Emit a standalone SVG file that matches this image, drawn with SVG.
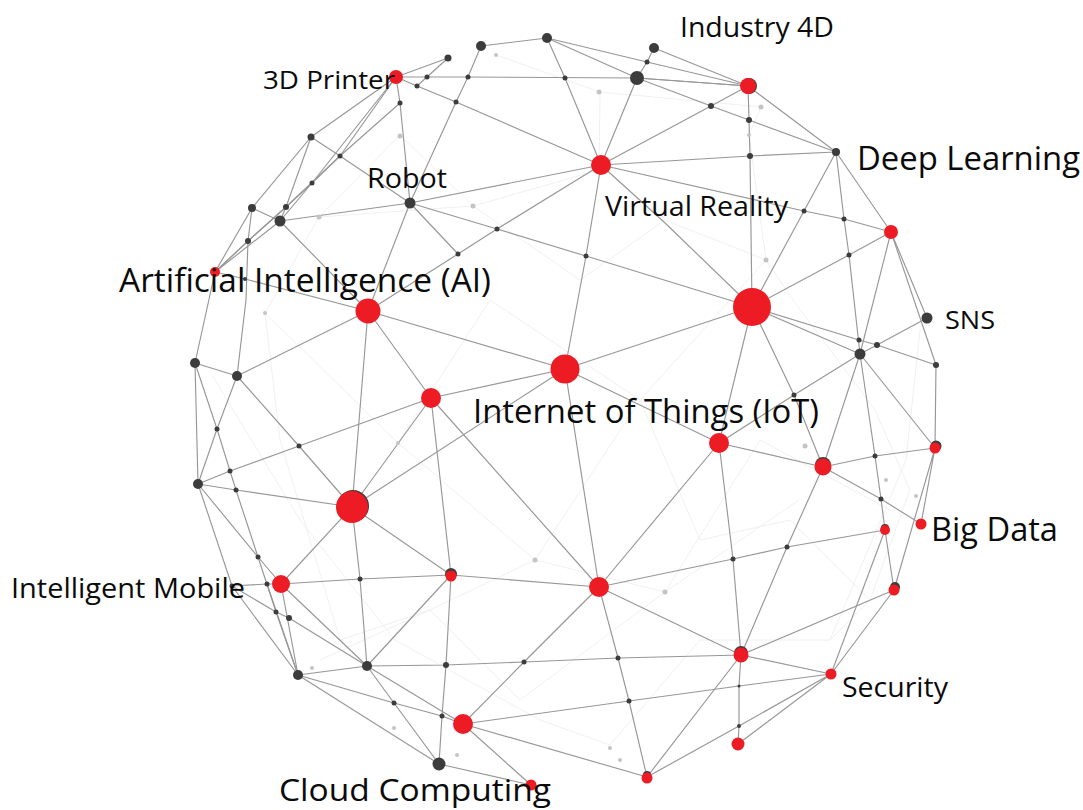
<svg xmlns="http://www.w3.org/2000/svg" width="1083" height="810" viewBox="0 0 1083 810">
<style>
.e{fill:none;stroke:#979797;stroke-width:1.15;stroke-linejoin:round}
.f{fill:none;stroke:#ececec;stroke-width:.8}
.r{fill:#ed1c24}
.d{fill:#3c3c3c}
.h{fill:#3c3c3c}
.g{fill:#c4c4c4}
text{font-family:"Open Sans","Noto Sans","Liberation Sans",sans-serif;fill:#0b0b0b}
</style>
<rect width="1083" height="810" fill="#fff"/>
<g id="faint">
<polyline class="f" points="496,55 600,92 599,170 473,206 400,135 319,217 265,313 398,443 535,560 665,592 799,500"/>
<polyline class="f" points="600,92 761,107 749,135 766,260 793,300 875,410 910,490 870,600 830,640"/>
<polyline class="f" points="319,217 473,206 580,280 665,220 766,260 640,400 535,560 430,610 320,660"/>
<polyline class="f" points="265,313 280,440 340,640 430,610 520,700 665,592 760,440 890,510"/>
<polyline class="f" points="212,375 300,520 395,640 540,720 610,745 700,640 830,640 906,460 920,330"/>
<polyline class="f" points="398,443 490,300 640,400 700,540 790,520 870,600"/>
</g>
<g id="connectors">
<polyline class="e" points="396,77 448,58 417,86"/>
<polyline class="e" points="396,77 427,77 468,77 637,78 748,86"/>
<polyline class="e" points="481,46 547,38 647,62 748,86"/>
<polyline class="e" points="547,38 637,78 711,106 749,120 836,152"/>
<polyline class="e" points="654,48 647,62 637,78"/>
<polyline class="e" points="654,48 748,86 836,152 891,232 927,318 877,345 860,354"/>
<polyline class="e" points="637,78 748,86"/>
<polyline class="e" points="481,46 468,77 456,102 410,203"/>
<polyline class="e" points="396,77 417,86 456,102 601,165"/>
<polyline class="e" points="547,38 565,78 601,165 637,78"/>
<polyline class="e" points="748,86 711,106 601,165 750,156 836,152"/>
<polyline class="e" points="748,86 749,120 750,156 752,307"/>
<polyline class="e" points="396,77 311,137 252,208 215,272 195,363 198,484"/>
<polyline class="e" points="396,77 340,156 312,183 286,207 248,241 215,272"/>
<polyline class="e" points="396,77 312,183 280,221 215,272"/>
<polyline class="e" points="396,77 400,103 410,203"/>
<polyline class="e" points="400,103 340,156 286,207 248,241 215,272"/>
<polyline class="e" points="311,137 340,156 410,203"/>
<polyline class="e" points="311,137 286,207 280,221"/>
<polyline class="e" points="252,208 280,221 410,203 601,165"/>
<polyline class="e" points="252,208 248,241 246,300 237,376"/>
<polyline class="e" points="215,272 245,279 368,311"/>
<polyline class="e" points="280,221 368,311 458,254 410,203"/>
<polyline class="e" points="410,203 368,311"/>
<polyline class="e" points="410,203 497,229 586,256 752,307"/>
<polyline class="e" points="458,254 497,229 601,165"/>
<polyline class="e" points="601,165 586,256 565,369"/>
<polyline class="e" points="601,165 664,222 752,307"/>
<polyline class="e" points="601,165 804,211 844,219 891,232"/>
<polyline class="e" points="836,152 804,211 752,307 849,255 891,232"/>
<polyline class="e" points="836,152 844,219 849,255 860,354"/>
<polyline class="e" points="891,232 860,354"/>
<polyline class="e" points="891,232 936,365 935,448"/>
<polyline class="e" points="752,307 859,340 877,345 936,365"/>
<polyline class="e" points="752,307 860,354 935,448"/>
<polyline class="e" points="752,307 794,395 823,467 860,354 794,395 719,443"/>
<polyline class="e" points="752,307 719,443"/>
<polyline class="e" points="752,307 565,369 368,311 431,398 565,369 719,443 823,467 875,456 935,448"/>
<polyline class="e" points="860,354 875,456 881,499 885,530"/>
<polyline class="e" points="823,467 881,499 921,524 935,448 894,590 831,674"/>
<polyline class="e" points="885,530 894,590 741,655"/>
<polyline class="e" points="885,530 831,674"/>
<polyline class="e" points="719,443 733,559 741,655"/>
<polyline class="e" points="719,443 599,587"/>
<polyline class="e" points="823,467 787,547 741,655"/>
<polyline class="e" points="599,587 733,559 787,547 885,530"/>
<polyline class="e" points="565,369 599,587 741,655 831,674"/>
<polyline class="e" points="431,398 599,587 451,575 360,579 281,584"/>
<polyline class="e" points="741,655 739,686 739,726 738,744 831,674"/>
<polyline class="e" points="741,655 647,777 739,726 831,674"/>
<polyline class="e" points="599,587 618,658 629,701 647,777 463,724"/>
<polyline class="e" points="463,724 629,701 739,686 831,674"/>
<polyline class="e" points="367,666 446,665 524,662 618,658 741,655"/>
<polyline class="e" points="599,587 524,662 463,724 531,785"/>
<polyline class="e" points="368,311 352,507 431,398"/>
<polyline class="e" points="565,369 352,507 451,575 367,666"/>
<polyline class="e" points="368,311 237,376 299,446 352,507"/>
<polyline class="e" points="431,398 299,446 230,471 198,484"/>
<polyline class="e" points="431,398 451,575 446,665"/>
<polyline class="e" points="195,363 237,376 217,429 198,484 236,490 352,507"/>
<polyline class="e" points="195,363 217,429 230,471 236,490 258,557 276,612 298,675"/>
<polyline class="e" points="198,484 258,557 281,584 298,675"/>
<polyline class="e" points="198,484 232,586 298,675 367,666"/>
<polyline class="e" points="232,586 267,584 281,584"/>
<polyline class="e" points="232,586 276,612 289,618 367,666"/>
<polyline class="e" points="267,584 298,675"/>
<polyline class="e" points="281,584 367,666"/>
<polyline class="e" points="352,507 281,584"/>
<polyline class="e" points="352,507 360,579 367,666"/>
<polyline class="e" points="367,666 394,703 439,764"/>
<polyline class="e" points="367,666 463,724"/>
<polyline class="e" points="298,675 394,703 442,716 463,724"/>
<polyline class="e" points="298,675 439,764 531,785"/>
<polyline class="e" points="446,665 442,716 439,764"/>
</g>
<g id="n1"><circle class="g" cx="599" cy="92" r="2.5"/></g>
<g id="n2"><circle class="g" cx="761" cy="107" r="2.5"/></g>
<g id="n3"><circle class="g" cx="749" cy="135" r="2"/></g>
<g id="n4"><circle class="g" cx="766" cy="260" r="2.5"/></g>
<g id="n5"><circle class="g" cx="496" cy="55" r="2"/></g>
<g id="n6"><circle class="g" cx="400" cy="136" r="2.5"/></g>
<g id="n7"><circle class="g" cx="319" cy="217" r="2.5"/></g>
<g id="n8"><circle class="g" cx="473" cy="206" r="2.5"/></g>
<g id="n9"><circle class="g" cx="265" cy="313" r="2"/></g>
<g id="n10"><circle class="g" cx="398" cy="443" r="2"/></g>
<g id="n11"><circle class="g" cx="535" cy="560" r="2.5"/></g>
<g id="n12"><circle class="g" cx="665" cy="592" r="2.5"/></g>
<g id="n13"><circle class="g" cx="805" cy="446" r="2.5"/></g>
<g id="n14"><circle class="g" cx="886" cy="480" r="2"/></g>
<g id="n15"><circle class="g" cx="916" cy="496" r="2"/></g>
<g id="n16"><circle class="g" cx="312" cy="668" r="2"/></g>
<g id="n17"><circle class="g" cx="394" cy="728" r="2"/></g>
<g id="n18"><circle class="g" cx="457" cy="755" r="2"/></g>
<g id="n19"><circle class="g" cx="620" cy="760" r="2"/></g>
<g id="n20"><circle class="g" cx="610" cy="748" r="2"/></g>
<g id="n22"><circle class="d" cx="637" cy="78" r="7"/></g>
<g id="n23"><circle class="d" cx="547" cy="38" r="5"/></g>
<g id="n24"><circle class="d" cx="481" cy="46" r="5"/></g>
<g id="n25"><circle class="d" cx="448" cy="58" r="3.5"/></g>
<g id="n26"><circle class="d" cx="311" cy="137" r="3.5"/></g>
<g id="n27"><circle class="d" cx="252" cy="208" r="4"/></g>
<g id="n28"><circle class="d" cx="280" cy="221" r="5.5"/></g>
<g id="n29"><circle class="d" cx="195" cy="363" r="5"/></g>
<g id="n30"><circle class="d" cx="237" cy="376" r="5"/></g>
<g id="n31"><circle class="d" cx="198" cy="484" r="5"/></g>
<g id="n32"><circle class="d" cx="367" cy="666" r="5"/></g>
<g id="n33"><circle class="d" cx="298" cy="675" r="5"/></g>
<g id="n34"><circle class="d" cx="439" cy="764" r="6.5"/></g>
<g id="n35"><circle class="d" cx="860" cy="354" r="5.5"/></g>
<g id="n36"><circle class="d" cx="427" cy="77" r="2.5"/></g>
<g id="n37"><circle class="d" cx="417" cy="86" r="2.5"/></g>
<g id="n38"><circle class="d" cx="400" cy="103" r="2.5"/></g>
<g id="n39"><circle class="d" cx="468" cy="77" r="2.5"/></g>
<g id="n40"><circle class="d" cx="456" cy="102" r="2.5"/></g>
<g id="n41"><circle class="d" cx="340" cy="156" r="2.5"/></g>
<g id="n42"><circle class="d" cx="312" cy="183" r="2.5"/></g>
<g id="n43"><circle class="d" cx="286" cy="207" r="3"/></g>
<g id="n44"><circle class="d" cx="248" cy="241" r="3"/></g>
<g id="n45"><circle class="d" cx="497" cy="229" r="2.5"/></g>
<g id="n46"><circle class="d" cx="458" cy="254" r="2.5"/></g>
<g id="n47"><circle class="d" cx="245" cy="279" r="2"/></g>
<g id="n48"><circle class="d" cx="565" cy="78" r="2.5"/></g>
<g id="n49"><circle class="d" cx="647" cy="62" r="2.5"/></g>
<g id="n50"><circle class="d" cx="711" cy="106" r="3"/></g>
<g id="n51"><circle class="d" cx="749" cy="120" r="3"/></g>
<g id="n52"><circle class="d" cx="750" cy="156" r="3"/></g>
<g id="n53"><circle class="d" cx="586" cy="256" r="2.5"/></g>
<g id="n54"><circle class="d" cx="804" cy="211" r="2.5"/></g>
<g id="n55"><circle class="d" cx="844" cy="219" r="2.5"/></g>
<g id="n56"><circle class="d" cx="849" cy="255" r="2.5"/></g>
<g id="n57"><circle class="d" cx="859" cy="340" r="2.5"/></g>
<g id="n58"><circle class="d" cx="877" cy="345" r="3"/></g>
<g id="n59"><circle class="d" cx="936" cy="365" r="3"/></g>
<g id="n60"><circle class="d" cx="794" cy="395" r="2.5"/></g>
<g id="n61"><circle class="d" cx="875" cy="456" r="2.5"/></g>
<g id="n62"><circle class="d" cx="881" cy="499" r="2.5"/></g>
<g id="n63"><circle class="d" cx="733" cy="559" r="2.5"/></g>
<g id="n64"><circle class="d" cx="787" cy="547" r="2.5"/></g>
<g id="n65"><circle class="d" cx="217" cy="429" r="2.5"/></g>
<g id="n66"><circle class="d" cx="299" cy="446" r="2.5"/></g>
<g id="n67"><circle class="d" cx="230" cy="471" r="2.5"/></g>
<g id="n68"><circle class="d" cx="236" cy="490" r="2.5"/></g>
<g id="n69"><circle class="d" cx="258" cy="557" r="2.5"/></g>
<g id="n70"><circle class="d" cx="267" cy="584" r="2.5"/></g>
<g id="n71"><circle class="d" cx="232" cy="586" r="2.5"/></g>
<g id="n72"><circle class="d" cx="276" cy="612" r="2.5"/></g>
<g id="n73"><circle class="d" cx="289" cy="618" r="3"/></g>
<g id="n74"><circle class="d" cx="360" cy="579" r="2.5"/></g>
<g id="n75"><circle class="d" cx="446" cy="665" r="3"/></g>
<g id="n76"><circle class="d" cx="524" cy="662" r="2.5"/></g>
<g id="n77"><circle class="d" cx="394" cy="703" r="2.5"/></g>
<g id="n78"><circle class="d" cx="442" cy="716" r="2.5"/></g>
<g id="n79"><circle class="d" cx="618" cy="658" r="2.5"/></g>
<g id="n80"><circle class="d" cx="629" cy="701" r="2.5"/></g>
<g id="n81"><circle class="d" cx="739" cy="686" r="1.5"/></g>
<g id="n82"><circle class="d" cx="739" cy="726" r="2"/></g>
<g id="n83"><circle class="r" cx="752" cy="307" r="19"/></g>
<g id="n84"><circle class="h" cx="353" cy="506" r="16"/><circle class="r" cx="352" cy="507" r="16"/></g>
<g id="n85"><circle class="r" cx="431" cy="398" r="10"/></g>
<g id="n86"><circle class="h" cx="749" cy="86" r="8"/><circle class="r" cx="748" cy="86" r="8"/></g>
<g id="n87"><circle class="r" cx="215" cy="272" r="5"/></g>
<g id="n88"><circle class="r" cx="891" cy="232" r="7"/></g>
<g id="n89"><circle class="r" cx="719" cy="443" r="10"/></g>
<g id="n90"><circle class="h" cx="823" cy="465" r="8"/><circle class="r" cx="823" cy="467" r="8.5"/></g>
<g id="n91"><circle class="h" cx="936" cy="446" r="5.5"/><circle class="r" cx="935" cy="448" r="5.5"/></g>
<g id="n92"><circle class="h" cx="885" cy="528" r="4"/><circle class="r" cx="885" cy="530" r="5"/></g>
<g id="n93"><circle class="h" cx="895" cy="587" r="5"/><circle class="r" cx="894" cy="590" r="5.5"/></g>
<g id="n94"><circle class="h" cx="741" cy="653" r="7"/><circle class="r" cx="741" cy="655" r="7.5"/></g>
<g id="n95"><circle class="r" cx="738" cy="744" r="6.5"/></g>
<g id="n96"><circle class="h" cx="647" cy="775" r="4"/><circle class="r" cx="647" cy="778" r="5.5"/></g>
<g id="n97"><circle class="r" cx="463" cy="724" r="10"/></g>
<g id="n98"><circle class="r" cx="599" cy="587" r="10"/></g>
<g id="n99"><circle class="h" cx="451" cy="574" r="6"/><circle class="r" cx="451" cy="576" r="5.5"/></g>
<g id="n100"><circle class="d" cx="836" cy="152" r="4"/><text x="857" y="170" font-size="33" textLength="223" lengthAdjust="spacingAndGlyphs">Deep Learning</text></g>
<g id="n101"><circle class="d" cx="654" cy="48" r="5"/><text x="680" y="37" font-size="27" textLength="154" lengthAdjust="spacingAndGlyphs">Industry 4D</text></g>
<g id="n102"><circle class="r" cx="396" cy="77" r="7"/><text x="263" y="89" font-size="26" textLength="132" lengthAdjust="spacingAndGlyphs">3D Printer</text></g>
<g id="n103"><circle class="d" cx="410" cy="203" r="5.5"/><text x="367" y="188" font-size="27" textLength="80" lengthAdjust="spacingAndGlyphs">Robot</text></g>
<g id="n104"><circle class="r" cx="601" cy="165" r="10"/><text x="605" y="216" font-size="27" textLength="183" lengthAdjust="spacingAndGlyphs">Virtual Reality</text></g>
<g id="n105"><circle class="r" cx="368" cy="311" r="12.5"/><text x="119" y="292" font-size="33" textLength="372" lengthAdjust="spacingAndGlyphs">Artificial Intelligence (AI)</text></g>
<g id="n106"><circle class="d" cx="927" cy="318" r="5.5"/><text x="945" y="329" font-size="26" textLength="50" lengthAdjust="spacingAndGlyphs">SNS</text></g>
<g id="n107"><circle class="r" cx="565" cy="369" r="14.5"/><text x="473" y="423" font-size="33" textLength="346" lengthAdjust="spacingAndGlyphs">Internet of Things (IoT)</text></g>
<g id="n108"><circle class="r" cx="921" cy="524" r="5.5"/><text x="931" y="541" font-size="33" textLength="127" lengthAdjust="spacingAndGlyphs">Big Data</text></g>
<g id="n109"><circle class="r" cx="281" cy="584" r="9"/><text x="11" y="598" font-size="27" textLength="234" lengthAdjust="spacingAndGlyphs">Intelligent Mobile</text></g>
<g id="n110"><circle class="r" cx="831" cy="674" r="5.5"/><text x="842" y="697" font-size="27" textLength="106" lengthAdjust="spacingAndGlyphs">Security</text></g>
<g id="n111"><circle class="r" cx="531" cy="785" r="5.5"/><text x="279" y="801" font-size="31" textLength="272" lengthAdjust="spacingAndGlyphs">Cloud Computing</text></g>
</svg>
